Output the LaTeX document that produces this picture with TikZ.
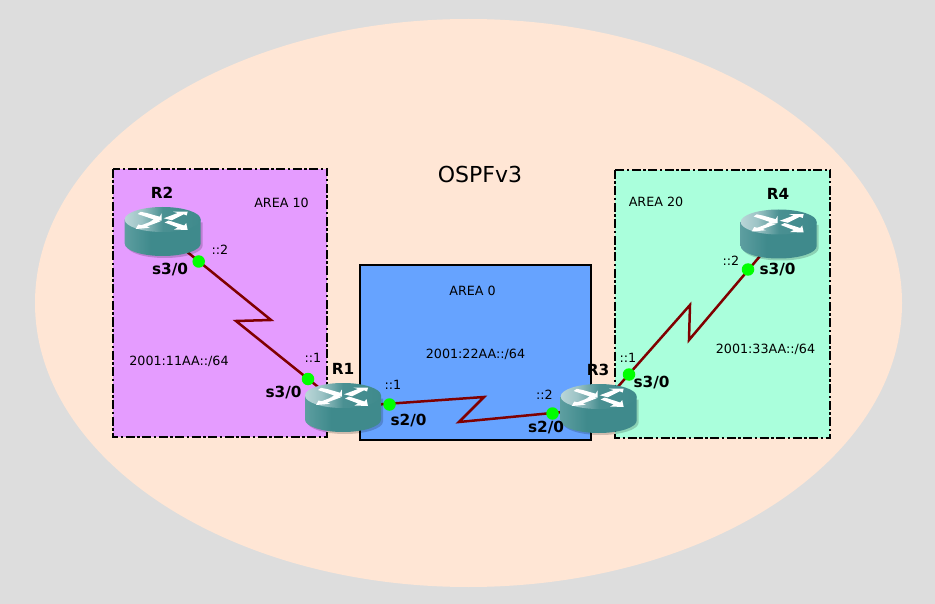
\documentclass[tikz,border=0pt]{standalone}
\usepackage{fontspec}
\setmainfont{DejaVu Sans}
\usetikzlibrary{calc}
\definecolor{pagebg}{HTML}{DDDDDD}
\definecolor{zonebg}{HTML}{FFE6D5}
\definecolor{pinkarea}{HTML}{E59CFF}
\definecolor{bluearea}{HTML}{66A3FF}
\definecolor{greenarea}{HTML}{AAFFDC}
\definecolor{linkred}{HTML}{800000}
\definecolor{teal1}{HTML}{3F8A8C}
\definecolor{teal2}{HTML}{BAD6D8}
\definecolor{teal3}{HTML}{9CC3C5}
\definecolor{teal4}{HTML}{4A9092}
\definecolor{teal5}{HTML}{5D9EA0}
\pgfdeclarehorizontalshading{routertop}{100bp}{color(0bp)=(teal2); color(25bp)=(teal2); color(36bp)=(teal3); color(50bp)=(teal4); color(75bp)=(teal1); color(100bp)=(teal1)}
\pgfdeclarehorizontalshading{routerside}{100bp}{color(0bp)=(teal5); color(25bp)=(teal5); color(42bp)=(teal1); color(100bp)=(teal1)}
\tikzset{
  x=1pt,y=-1pt,
  area/.style={draw=black,line width=2pt},
  dashedarea/.style={area,dash pattern=on 9pt off 2.5pt on 2.5pt off 2.5pt},
  serial/.style={draw=linkred,line width=2.5pt},
  port/.style={circle,fill=green,inner sep=0pt,minimum size=12.5pt},
  addr/.style={font=\fontsize{12.7}{14}\selectfont,inner sep=0pt,text=black},
  ifname/.style={font=\fontsize{15.3}{17}\selectfont\bfseries,inner sep=0pt},
  rname/.style={font=\fontsize{15.3}{17}\selectfont\bfseries,inner sep=0pt},
  routeranchor/.style={inner sep=0pt,minimum width=76pt,minimum height=48pt},
  arrowfill/.style={fill=white,draw=none},
}
% #1 = name, #2 = centre of top ellipse
\newcommand{\routerdraw}[2]{%
  \coordinate (#1-c) at #2;
  \begin{scope}[shift={#2}]
    \fill[black,opacity=.18] (-36,3) -- (-36,26) arc[start angle=180,end angle=0,x radius=38,y radius=12.5] -- (40,3) -- cycle;
    \path[shading=routerside] (-38,0) -- (-38,24) arc[start angle=180,end angle=0,x radius=38,y radius=12.5] -- (38,0) -- cycle;
    \path[shading=routertop] (0,0) ellipse[x radius=38,y radius=12.5];
    \fill[arrowfill] (-16,-6.5) -- (-3,-2.8) -- (-1.2,-6) -- (-1.0,1) -- (-13,2.2) -- (-8.8,0) -- (-25,-5.5) -- (-22,-7.7) -- cycle;
    \fill[arrowfill] (1,-1.2) -- (15,-6.5) -- (10.5,-7.8) -- (25,-8) -- (24,-4) -- (21,-5.2) -- (9,0.8) -- cycle;
    \fill[arrowfill] (-2,1.8) -- (-16,7) -- (-13,8.3) -- (-27,9.5) -- (-24.5,5) -- (-21.5,5.8) -- (-9,1) -- cycle;
    \fill[arrowfill] (2,3) -- (6,1) -- (21.5,6) -- (23.5,3.5) -- (25,10.5) -- (11.5,10) -- (15,8) -- cycle;
  \end{scope}%
}
\begin{document}
\begin{tikzpicture}
\useasboundingbox (0,0) rectangle (935,604);
\fill[pagebg] (0,0) rectangle (935,604);
\fill[zonebg] (468.5,303) ellipse[x radius=433.5,y radius=284];
\draw[dashedarea,fill=pinkarea] (113,169) rectangle (327,437);
\draw[area,fill=bluearea] (360,265) rectangle (591,440);
\draw[dashedarea,fill=greenarea] (615,170) rectangle (830,438);

\node (title) at (480,174) {\fontsize{22}{26}\selectfont OSPFv3};
\node[addr] (a10) at (281.5,202.5) {AREA 10};
\node[addr] (a0) at (472.5,291) {AREA 0};
\node[addr] (a20) at (656,202) {AREA 20};
\node[addr] (n11) at (179,361) {2001:11AA::/64};
\node[addr] (n22) at (475.5,354.5) {2001:22AA::/64};
\node[addr] (n33) at (765.5,349) {2001:33AA::/64};

\node[routeranchor] (R2) at (162.7,232) {};
\node[routeranchor] (R1) at (343,407) {};
\node[routeranchor] (R3) at (598.7,408.5) {};
\node[routeranchor] (R4) at (778.7,234) {};

\coordinate (z1a) at (271,320);
\coordinate (z1b) at (236,321);
\coordinate (z2a) at (484,397);
\coordinate (z2b) at (459,422);
\coordinate (z3a) at (690,305);
\coordinate (z3b) at (689,340);
\draw[serial] (R2.center) -- (z1a) -- (z1b) -- (R1.center);
\draw[serial] (R1.center) -- (z2a) -- (z2b) -- (R3.center);
\draw[serial] (R3.center) -- (z3a) -- (z3b) -- (R4.center);

\routerdraw{r2}{(162.7,219.5)}
\routerdraw{r1}{(343,395.5)}
\routerdraw{r3}{(598.7,396.5)}
\routerdraw{r4}{(778.7,222)}

\node[port] (p21) at (198.7,261.5) {};
\node[port] (p12) at (308,379) {};
\node[port] (p13) at (389.5,404.5) {};
\node[port] (p31) at (552.5,413.5) {};
\node[port] (p34) at (629,374.5) {};
\node[port] (p43) at (748,269.5) {};

\node[rname] (lR2) at (162,193) {R2};
\node[rname] (lR1) at (343,369) {R1};
\node[rname] (lR3) at (598,370) {R3};
\node[rname] (lR4) at (778,194) {R4};

\node[ifname] (i1) at (170,269.5) {s3/0};
\node[ifname] (i2) at (283.5,393) {s3/0};
\node[ifname] (i3) at (408.5,421) {s2/0};
\node[ifname] (i4) at (546,428) {s2/0};
\node[ifname] (i5) at (651.5,383) {s3/0};
\node[ifname] (i6) at (777.5,270) {s3/0};

\node[addr] (c1) at (220,249.5) {::2};
\node[addr] (c2) at (313,358) {::1};
\node[addr] (c3) at (393,385) {::1};
\node[addr] (c4) at (544.5,394.5) {::2};
\node[addr] (c5) at (628,358) {::1};
\node[addr] (c6) at (731,261) {::2};
\end{tikzpicture}
\end{document}
